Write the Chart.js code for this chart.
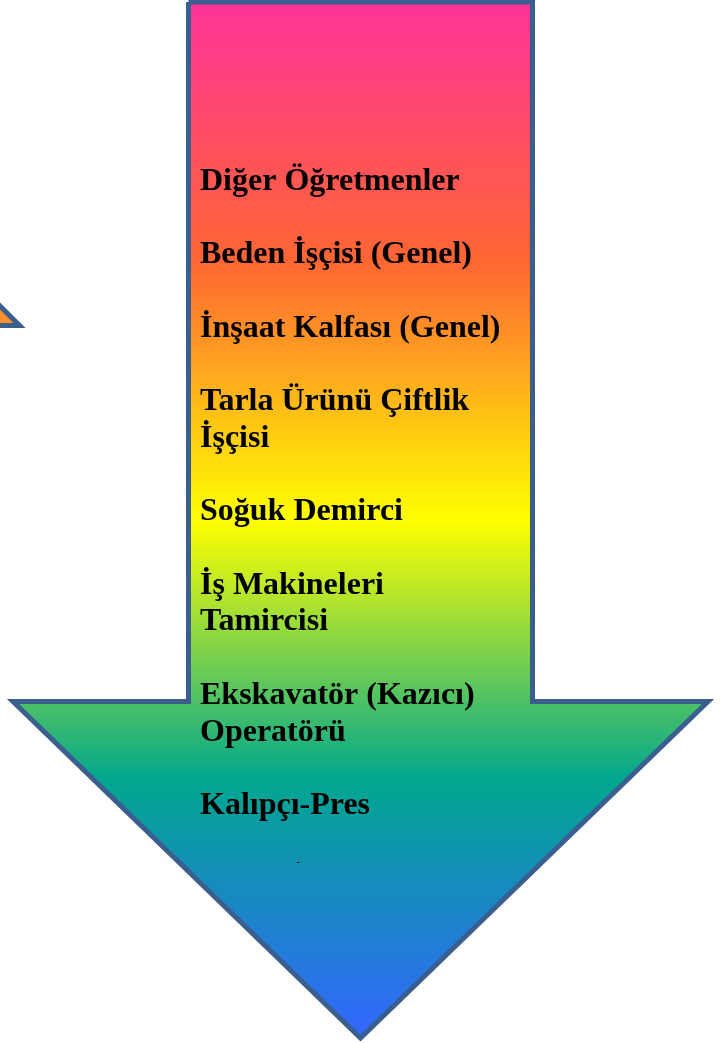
<!DOCTYPE html>
<html>
<head>
<meta charset="utf-8">
<script src="https://cdn.jsdelivr.net/npm/chart.js@4/dist/chart.umd.min.js"></script>
<style>
  html, body { margin: 0; padding: 0; background: #ffffff; }
  canvas { display: block; }
</style>
</head>
<body>
<canvas id="arrowChart" width="720" height="1043"></canvas>
<script>
// Meslek listesi (her eleman bir madde, satırlara bölünmüş)
const jobLabels = [
    ['Diğer Öğretmenler'],
    ['Beden İşçisi (Genel)'],
    ['İnşaat Kalfası (Genel)'],
    ['Tarla Ürünü Çiftlik', 'İşçisi'],
    ['Soğuk Demirci'],
    ['İş Makineleri', 'Tamircisi'],
    ['Ekskavatör (Kazıcı)', 'Operatörü'],
    ['Kalıpçı-Pres']
];

// Ok şeklinin köşeleri (eksen birimleri)
const arrowX = [188.5, 532.5, 532.5, 708, 360.5, 13, 188.5, 188.5];
const arrowY = [2, 2, 701.5, 701.5, 1038, 701.5, 701.5, 2];

// Soldaki küçük ok parçası
const sideX = [-6, 19.5, -6, -6];
const sideY = [300, 325.5, 325.5, 300];

// Gökkuşağı degrade durakları
const gradientStops = [0, 0.25, 0.5, 0.75, 1];
const gradientColors = ['#FF3399', '#FF6633', '#FFFF00', '#01A78F', '#3366FF'];

function toPoints(xs, ys) {
    return xs.map((x, i) => ({ x: x, y: ys[i] }));
}

function rainbowFill(context) {
    const chart = context.chart;
    if (!chart.chartArea) return gradientColors[0];
    const yScale = chart.scales.y;
    const top = yScale.getPixelForValue(Math.min(...arrowY));
    const bottom = yScale.getPixelForValue(Math.max(...arrowY));
    const grad = chart.ctx.createLinearGradient(0, top, 0, bottom);
    gradientStops.forEach((s, i) => grad.addColorStop(s, gradientColors[i]));
    return grad;
}

// Yazıları ok içine çizen eklenti
const labelPlugin = {
    id: 'jobLabels',
    afterDatasetsDraw(chart) {
        const ctx = chart.ctx;
        const xScale = chart.scales.x;
        const yScale = chart.scales.y;
        const lineStep = 36.7;
        let line = 0;
        ctx.save();
        ctx.fillStyle = '#000000';
        ctx.font = 'bold 32px "Liberation Serif", "Times New Roman", serif';
        ctx.textAlign = 'left';
        ctx.textBaseline = 'alphabetic';
        jobLabels.forEach(item => {
            item.forEach(text => {
                ctx.fillText(text, xScale.getPixelForValue(200), yScale.getPixelForValue(190 + line * lineStep));
                line++;
            });
            line++; // maddeler arası boş satır
        });
        // küçük tire
        ctx.font = 'bold 10px "Liberation Serif", serif';
        ctx.fillText('-', xScale.getPixelForValue(296.5), yScale.getPixelForValue(865));
        ctx.restore();
    }
};

const ctx = document.getElementById('arrowChart').getContext('2d');
window.arrowChart = new Chart(ctx, {
    type: 'scatter',
    data: {
        datasets: [
            {
                data: toPoints(sideX, sideY),
                showLine: true,
                fill: 'shape',
                backgroundColor: '#F98E2C',
                borderColor: '#3A5F8F',
                borderWidth: 5,
                borderJoinStyle: 'miter',
                pointRadius: 0,
                tension: 0
            },
            {
                data: toPoints(arrowX, arrowY),
                showLine: true,
                fill: 'shape',
                backgroundColor: rainbowFill,
                borderColor: '#3A5F8F',
                borderWidth: 5,
                borderJoinStyle: 'miter',
                pointRadius: 0,
                tension: 0
            }
        ]
    },
    options: {
        responsive: false,
        animation: false,
        devicePixelRatio: 1,
        layout: { padding: 0 },
        plugins: {
            legend: { display: false },
            tooltip: { enabled: false },
            title: { display: false }
        },
        scales: {
            x: { type: 'linear', min: 0, max: 720, display: false },
            y: { type: 'linear', min: 0, max: 1043, reverse: true, display: false }
        }
    },
    plugins: [labelPlugin]
});
</script>
</body>
</html>
